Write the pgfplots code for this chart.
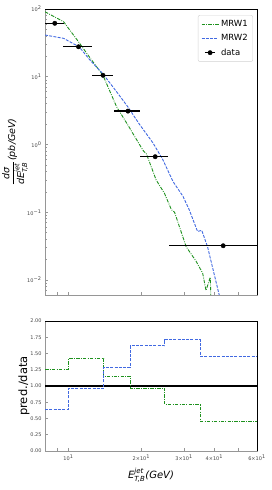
\documentclass[border=0pt]{standalone}
\usepackage{fontspec}
\setmainfont{DejaVu Sans}
\usepackage{amsmath}
\usepackage{pgfplots}
\pgfplotsset{compat=1.18}
\definecolor{mgreen}{RGB}{30,145,30}
\definecolor{mblue}{RGB}{65,105,225}
\definecolor{spinegray}{RGB}{150,150,150}
\definecolor{ticklab}{RGB}{70,70,70}
\pgfplotsset{
 mycommon/.style={
  scale only axis, width=212pt,
  axis line style={spinegray, line width=0.8pt},
  tick style={spinegray, line width=0.6pt},
  tick align=inside,
  major tick length=3pt, minor tick length=1.8pt,
  xtick={9,10,20,30,40,50,60}, minor xtick={},
  xtick pos=bottom, ytick pos=left,
  ticklabel style={font=\fontsize{5}{6}\selectfont, text=ticklab},
  /pgf/number format/assume math mode=true,
 }}
\begin{document}
\begin{tikzpicture}[x=1pt,y=1pt]
\begin{axis}[xmode=log, ymode=log, xmin=8, xmax=60, mycommon, name=top, at={(45pt,195pt)}, anchor=south west, height=286pt,
  ymin=0.006, ymax=100,
  xticklabels={},
  ytick={0.01,0.1,1,10,100},
  yticklabels={10\textsuperscript{−2},10\textsuperscript{−1},10\textsuperscript{0},10\textsuperscript{1},10\textsuperscript{2}},
  minor ytick={0.006,0.007,0.008,0.009,0.02,0.03,0.04,0.05,0.06,0.07,0.08,0.09,0.2,0.3,0.4,0.5,0.6,0.7,0.8,0.9,2,3,4,5,6,7,8,9,20,30,40,50,60,70,80,90},
  legend style={at={(0.981,0.979)}, anchor=north east, draw=gray!35, rounded corners=2pt,
    font=\fontsize{8.5}{10}\selectfont, inner xsep=3pt, inner ysep=3pt, row sep=2.5pt},
  legend cell align=left,
]
\addplot[mgreen, line width=0.9pt, dash pattern=on 3.5pt off 1.3pt on 0.8pt off 1.3pt] coordinates {
(8,91) (9.54,65) (11.06,32) (12.27,19) (13.88,10.5) (15.8,3.6) (17.58,1.94) (20.3,0.82) (21,0.72)
(23,0.30) (24.9,0.19) (26.6,0.109) (27.4,0.10) (30.6,0.031) (33.6,0.019) (35.8,0.0126) (36.96,0.007)
(38.5,0.011) (38.8,0.004)};
\addlegendentry{MRW1}
\addplot[mblue, line width=0.9pt, dash pattern=on 3pt off 1.3pt] coordinates {
(8,41.3) (9.54,36.9) (11.06,27.7) (12.27,17.6) (13.88,11) (15.8,6.0) (17.58,3.6) (19.67,1.97)
(22.3,1.06) (24.5,0.6) (26.98,0.286) (29.7,0.171) (31.5,0.109) (34.1,0.052) (35.5,0.054) (37.5,0.031) (41.9,0.006)};
\addlegendentry{MRW2}
\addplot[black, only marks, mark=*, mark size=2.2pt,
  legend image code/.code={\draw[black, line width=1.3pt] (0.12cm,0cm) -- (0.48cm,0cm); \fill[black] (0.3cm,0cm) circle (2.2pt);},
  error bars/.cd, x dir=both, x explicit, error mark=none,
  error bar style={line width=1.3pt, black}] coordinates {
(8.78,61.5) +- (0.78,0)
(11.0,27.7) +- (1.47,0)
(13.88,10.5) +- (1.33,0)
(17.6,3.11) +- (2.2,0)
(22.8,0.66) +- (3.0,0)
(43.5,0.032) +- (17.5,0)};
\addlegendentry{data}
\end{axis}
\draw[black, line width=0.8pt] (top.north west) -- (top.north east) -- (top.south east);

\begin{axis}[xmode=log, xmin=8, xmax=60, mycommon, name=bot, at={(45pt,39pt)}, anchor=south west, height=130pt,
  ymin=0, ymax=2, ytick={0,0.25,0.5,0.75,1,1.25,1.5,1.75,2},
  yticklabel style={/pgf/number format/.cd, fixed, fixed zerofill, precision=2},
  xticklabels={,10\textsuperscript{1},2×10\textsuperscript{1},3×10\textsuperscript{1},4×10\textsuperscript{1},,6×10\textsuperscript{1}},
]
\addplot[black, line width=1.2pt] coordinates {(8,1) (60,1)};
\addplot[mgreen, line width=0.9pt, dash pattern=on 3.5pt off 1.3pt on 0.8pt off 1.3pt, const plot] coordinates {
(8,1.26) (10,1.42) (14,1.15) (18,0.97) (25,0.71) (35,0.46) (60,0.46)};
\addplot[mblue, line width=0.9pt, dash pattern=on 3pt off 1.3pt, const plot] coordinates {
(8,0.64) (10,0.965) (14,1.29) (18,1.62) (25,1.71) (35,1.46) (60,1.46)};
\end{axis}
\draw[black, line width=0.8pt] (bot.north west) -- (bot.north east) -- (bot.south east);

\node[rotate=90, font=\fontsize{9.5}{11}\selectfont] at (15pt,338pt)
  {$\dfrac{\textit{dσ}}{\textit{dE}^{\textit{jet}}_{\textit{T,B}}}$\textit{(pb/GeV)}};
\node[rotate=90, font=\fontsize{11.5}{13}\selectfont] at (24pt,104pt) {pred./data};
\node[anchor=base, font=\fontsize{10}{12}\selectfont] at (151pt,12pt)
  {\textit{E}$^{\textit{jet}}_{\textit{T,B}}$\textit{(GeV)}};
\pgfresetboundingbox
\path[use as bounding box] (0,0) rectangle (272pt,490pt);
\end{tikzpicture}
\end{document}
